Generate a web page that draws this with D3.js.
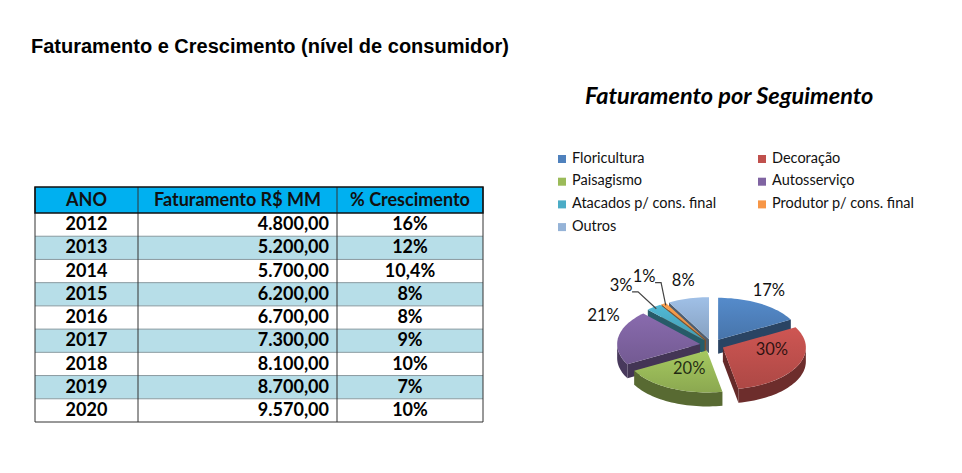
<!DOCTYPE html>
<html>
<head>
<meta charset="utf-8">
<script src="https://cdn.jsdelivr.net/npm/d3@7"></script>
<style>
  body { margin: 0; background: #fff; }
  svg { display: block; }
</style>
</head>
<body>
<div id="chart"></div>
<script>
// table data
const years = [2012, 2013, 2014, 2015, 2016, 2017, 2018, 2019, 2020];
const revenue = [4800, 5200, 5700, 6200, 6700, 7300, 8100, 8700, 9570];
const growth = [16, 12, 10.4, 8, 8, 9, 10, 7, 10];
const headers = ["ANO", "Faturamento R$ MM", "% Crescimento"];

// pie data
const segments = ["Floricultura", "Decoração", "Paisagismo", "Autosserviço",
  "Atacados p/ cons. final", "Produtor p/ cons. final", "Outros"];
const shares = [17, 30, 20, 21, 3, 1, 8];
const segColors = ["#4F81BD", "#C0504D", "#9BBB59", "#8064A2", "#4BACC6", "#F79646", "#95B3D7"];

const W = 962, H = 473;
const svg = d3.select("#chart").append("svg")
  .attr("width", W).attr("height", H);
svg.append("rect").attr("width", W).attr("height", H).attr("fill", "#fff");

const defs = svg.append("defs");

// main title
svg.append("text")
  .attr("x", 31).attr("y", 53)
  .attr("font-family", "Liberation Sans, Arial, sans-serif")
  .attr("font-weight", "bold")
  .attr("font-size", "20px")
  .attr("fill", "#000")
  .text("Faturamento e Crescimento (nível de consumidor)");

// ---------- table ----------
const loc = d3.formatLocale({ decimal: ",", thousands: ".", grouping: [3], currency: ["R$", ""] });
const fmtMoney = loc.format(",.2f");
const fmtPct = v => String(v).replace(".", ",") + "%";

const colEdges = [35, 138, 337, 483];
const headTop = 187, headBot = 213, tableBot = 422;
const rowY = d3.scaleBand().domain(years).range([headBot, tableBot]);
const tableFont = "Lato, 'Open Sans', sans-serif";

const table = svg.append("g");

// row fills
table.selectAll(".rowbg")
  .data(years)
  .join("rect")
  .attr("x", colEdges[0]).attr("width", colEdges[3] - colEdges[0])
  .attr("y", d => rowY(d)).attr("height", rowY.bandwidth())
  .attr("fill", (d, i) => i % 2 ? "#B7DEE8" : "#fff");

// header
table.append("rect")
  .attr("x", colEdges[0]).attr("y", headTop)
  .attr("width", colEdges[3] - colEdges[0]).attr("height", headBot - headTop)
  .attr("fill", "#00B0F0");

// horizontal row lines
table.selectAll(".hline")
  .data(years.slice(1))
  .join("line")
  .attr("x1", colEdges[0]).attr("x2", colEdges[3])
  .attr("y1", d => rowY(d)).attr("y2", d => rowY(d))
  .attr("stroke", "#8a9aa0").attr("stroke-width", 1);

// vertical lines
table.selectAll(".vline")
  .data(colEdges)
  .join("line")
  .attr("x1", d => d).attr("x2", d => d)
  .attr("y1", headTop).attr("y2", tableBot)
  .attr("stroke", "#333").attr("stroke-width", 1);

table.append("line")
  .attr("x1", colEdges[0]).attr("x2", colEdges[3])
  .attr("y1", tableBot).attr("y2", tableBot)
  .attr("stroke", "#333");

// header border
table.append("rect")
  .attr("x", colEdges[0]).attr("y", headTop)
  .attr("width", colEdges[3] - colEdges[0]).attr("height", headBot - headTop)
  .attr("fill", "none").attr("stroke", "#111").attr("stroke-width", 1.5);

// header text
table.selectAll(".htext")
  .data(headers)
  .join("text")
  .attr("x", (d, i) => (colEdges[i] + colEdges[i + 1]) / 2)
  .attr("y", (headTop + headBot) / 2 + 1)
  .attr("text-anchor", "middle")
  .attr("dominant-baseline", "middle")
  .attr("font-family", tableFont)
  .attr("font-weight", "bold")
  .attr("font-size", "18px")
  .attr("fill", "#111")
  .text(d => d);

const cellText = (sel) => sel
  .attr("dominant-baseline", "middle")
  .attr("font-family", tableFont)
  .attr("font-weight", "bold")
  .attr("font-size", "18px")
  .attr("fill", "#000");

table.selectAll(".ytext")
  .data(years)
  .join("text")
  .call(cellText)
  .attr("x", (colEdges[0] + colEdges[1]) / 2)
  .attr("y", d => rowY(d) + rowY.bandwidth() / 2 + 1)
  .attr("text-anchor", "middle")
  .text(d => d);

table.selectAll(".rtext")
  .data(revenue)
  .join("text")
  .call(cellText)
  .attr("x", colEdges[2] - 8)
  .attr("y", (d, i) => rowY(years[i]) + rowY.bandwidth() / 2 + 1)
  .attr("text-anchor", "end")
  .text(d => fmtMoney(d));

table.selectAll(".gtext")
  .data(growth)
  .join("text")
  .call(cellText)
  .attr("x", (colEdges[2] + colEdges[3]) / 2)
  .attr("y", (d, i) => rowY(years[i]) + rowY.bandwidth() / 2 + 1)
  .attr("text-anchor", "middle")
  .text(d => fmtPct(d));

// ---------- pie title & legend ----------
svg.append("text")
  .attr("x", 585).attr("y", 104)
  .attr("font-family", tableFont)
  .attr("font-weight", "bold")
  .attr("font-style", "italic")
  .attr("font-size", "23.5px")
  .attr("fill", "#000")
  .text("Faturamento por Seguimento");

const legend = svg.append("g")
  .selectAll("g")
  .data(segments)
  .join("g")
  .attr("transform", (d, i) => `translate(${558 + (i % 2) * 200}, ${159 + Math.floor(i / 2) * 22.7})`);

legend.append("rect")
  .attr("x", 0).attr("y", -4)
  .attr("width", 8).attr("height", 8)
  .attr("fill", (d, i) => segColors[i]);

legend.append("text")
  .attr("x", 14).attr("y", 0)
  .attr("dominant-baseline", "middle")
  .attr("font-family", tableFont)
  .attr("font-size", "14.5px")
  .attr("fill", "#111")
  .text(d => d);

// ---------- exploded 3D pie ----------
const cx = 712, cy = 345, rx = 83, ry = 42, depth = 14, explode = 12;
const pie = d3.pie().sort(null).value(d => d)(shares);

const pt = (a, r, ox, oy, dz) => [cx + ox + rx * r * Math.sin(a), cy + oy - ry * r * Math.cos(a) + dz];
const arcPts = (a0, a1, ox, oy, dz) => {
  const n = Math.max(2, Math.ceil((a1 - a0) / 0.04));
  return d3.range(n + 1).map(k => pt(a0 + (a1 - a0) * k / n, 1, ox, oy, dz));
};
const poly = pts => "M" + pts.map(p => p.join(",")).join("L") + "Z";

const slices = pie.map((p, i) => {
  const mid = (p.startAngle + p.endAngle) / 2;
  return {
    ...p, i, mid,
    ox: explode * Math.sin(mid),
    oy: -explode * 0.5 * Math.cos(mid)
  };
});

// gradients for top faces
slices.forEach(s => {
  const g = defs.append("linearGradient")
    .attr("id", "top" + s.i)
    .attr("x1", 0).attr("y1", 0).attr("x2", 0).attr("y2", 1);
  const c = d3.color(segColors[s.i]);
  g.append("stop").attr("offset", "0%").attr("stop-color", c.brighter(0.2));
  g.append("stop").attr("offset", "100%").attr("stop-color", c.darker(0.3));
});

const pieG = svg.append("g");
// back to front
const order = [...slices].sort((a, b) => -Math.cos(a.mid) - -Math.cos(b.mid));

order.forEach(s => {
  const g = pieG.append("g");
  const base = d3.color(segColors[s.i]);
  const side = base.darker(1.6);
  const { startAngle: a0, endAngle: a1, ox, oy } = s;
  const c0 = pt(0, 0, ox, oy, 0);
  const c1 = pt(0, 0, ox, oy, depth);

  // radial cut faces
  if (Math.sin(a0) < 0) {
    const r0 = pt(a0, 1, ox, oy, 0), r1 = pt(a0, 1, ox, oy, depth);
    g.append("path").attr("d", poly([c0, r0, r1, c1])).attr("fill", side.darker(0.2));
  }
  if (Math.sin(a1) > 0) {
    const r0 = pt(a1, 1, ox, oy, 0), r1 = pt(a1, 1, ox, oy, depth);
    g.append("path").attr("d", poly([c0, r0, r1, c1])).attr("fill", side.darker(0.2));
  }

  // outer curved wall, front-facing part only
  const w0 = Math.max(a0, Math.PI / 2), w1 = Math.min(a1, 3 * Math.PI / 2);
  if (w1 > w0) {
    const top = arcPts(w0, w1, ox, oy, 0);
    const bot = arcPts(w0, w1, ox, oy, depth).reverse();
    g.append("path").attr("d", poly(top.concat(bot))).attr("fill", side);
  }

  // top face
  g.append("path")
    .attr("d", poly([c0].concat(arcPts(a0, a1, ox, oy, 0))))
    .attr("fill", `url(#top${s.i})`);
});

// labels
const insideLabels = { "Decoração": 0.6, "Paisagismo": 0.5 };
const labelNudge = {
  "Autosserviço": [6, -19],
  "Atacados p/ cons. final": [-20, -12],
  "Produtor p/ cons. final": [-9, -17],
  "Outros": [0, -7],
  "Decoração": [4, -7],
  "Floricultura": [-2, -3]
};
const leaders = ["Atacados p/ cons. final", "Produtor p/ cons. final"];

slices.forEach(s => {
  const name = segments[s.i];
  const inside = insideLabels[name];
  const f = inside || 1.25;
  const [nx, ny] = labelNudge[name] || [0, 0];
  const p = pt(s.mid, f, s.ox, s.oy, 0);
  const lx = p[0] + nx, ly = p[1] + ny;

  if (leaders.includes(name)) {
    const rim = pt(s.mid, 0.95, s.ox, s.oy, 0);
    const startX = lx + 11;
    pieG.append("path")
      .attr("d", `M${startX},${ly + 5}L${startX + 6},${ly + 5}L${rim[0]},${rim[1]}`)
      .attr("fill", "none")
      .attr("stroke", "#444")
      .attr("stroke-width", 1.2);
  }

  pieG.append("text")
    .attr("x", lx).attr("y", ly)
    .attr("text-anchor", "middle")
    .attr("dominant-baseline", "middle")
    .attr("font-family", tableFont)
    .attr("font-size", "16.5px")
    .attr("fill", inside ? "rgba(0,0,0,0.78)" : "#111")
    .text(s.data + "%");
});
</script>
</body>
</html>
